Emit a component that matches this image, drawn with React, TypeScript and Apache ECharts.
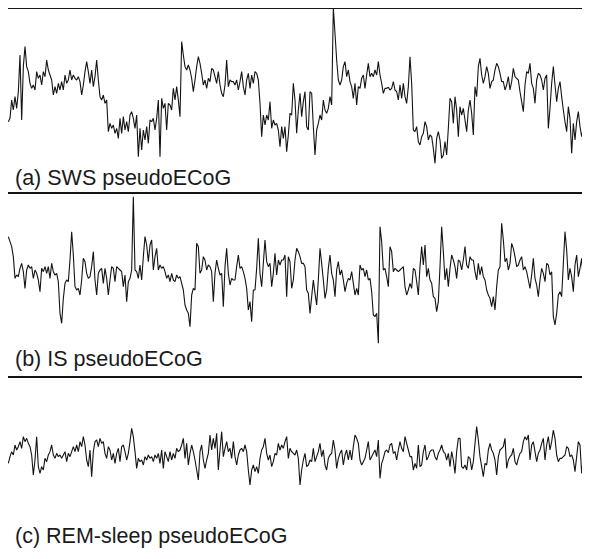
import React, { useEffect, useRef } from "react";
import * as echarts from "echarts";

// Amplitudes in arbitrary units, EEG convention (negative deflection drawn upward -> inverted axis).
// Each trace is split in three consecutive segments; segment start sample indices below.
const segmentStarts = [0, 109, 229];

const swsSeg1 = [365,355,300,330,290,325,275,165,360,200,140,200,215,250,265,255,270,215,235,225,255,215,230,180,210,225,240,285,260,280,250,270,245,270,225,250,240,210,240,225,235,240,230,245,285,255,215,185,215,250,210,260,230,180,240,290,300,285,310,300,395,370,385,375,400,385,415,355,400,350,390,365,395,345,335,355,385,345,470,385,450,390,420,380,430,360,365,355,390,355,300,470,295,325,310,390,310,315,330,265,300,260,300,350,125,165,200,210,195];
const swsSeg2 = [210,235,275,240,200,170,190,220,255,240,265,235,245,205,210,230,250,215,255,280,290,255,180,260,240,245,245,255,240,270,245,215,260,285,240,220,265,225,250,215,220,240,310,410,345,375,345,360,305,385,360,375,370,390,440,380,415,380,455,405,340,345,250,300,400,330,280,350,305,275,380,390,275,280,380,465,390,370,345,360,300,330,340,325,290,315,24,100,180,240,255,240,200,185,230,210,245,260,295,250,315,260,265,235,225,265,225,190,230,220,230,210,225,185,225,250,280,265,265,262];
const swsSeg3 = [270,265,245,270,275,300,255,295,250,290,310,260,170,250,390,395,380,425,435,410,400,365,380,420,405,410,445,490,415,395,420,475,465,425,465,385,295,305,370,290,330,410,320,345,325,360,395,330,300,340,405,260,290,200,175,225,250,230,200,220,265,245,240,210,190,200,220,245,245,270,255,230,270,245,205,230,235,240,275,305,335,255,215,220,190,250,265,310,240,220,225,240,270,235,225,385,325,250,200,255,305,265,245,290,330,365,395,320,355,460,370,420,365,335,380,410,385,420,390,340,320];

const isSeg1 = [170,185,200,230,295,285,290,265,250,275,325,270,255,265,260,295,270,280,300,335,265,275,260,280,260,295,250,275,285,280,305,400,430,355,310,300,305,240,155,225,320,330,325,345,300,235,245,280,295,290,260,215,300,345,280,270,265,310,265,295,345,300,260,265,305,260,265,270,275,320,285,365,305,295,270,50,270,275,295,255,300,230,170,195,245,195,180,270,230,205,270,255,265,260,275,295,285,305,280,300,305,285,295,290,310,330,375,390,400];
const isSeg2 = [440,345,325,330,190,200,280,270,230,240,270,255,260,275,365,280,240,265,285,280,380,260,205,280,315,295,300,300,260,225,265,260,275,295,325,390,365,425,330,330,265,175,280,320,250,180,245,260,250,320,280,220,285,240,255,240,240,225,350,230,245,325,300,240,205,215,230,250,250,260,330,340,400,350,300,340,375,300,205,250,300,355,330,265,225,280,300,350,270,245,285,270,300,335,310,295,300,275,310,345,325,345,255,270,265,290,270,300,295,335,405,410,400,490,140,185,270,265,290,320];
const isSeg3 = [200,215,275,265,270,275,270,265,260,320,345,330,310,325,265,270,305,345,260,200,255,195,290,265,300,310,350,355,395,365,260,140,215,300,265,320,265,225,240,260,295,240,245,270,240,200,255,265,230,240,240,275,300,250,285,260,290,300,330,345,355,380,350,390,320,270,260,130,180,245,235,270,250,190,205,230,260,255,240,230,270,260,275,300,325,285,235,295,315,350,300,265,280,305,250,255,285,275,410,435,400,345,335,350,250,155,210,300,265,290,335,255,225,290,265,235,300,240,220,280,280];

const remSeg1 = [280,260,245,255,225,240,230,215,235,200,215,205,220,230,255,315,270,200,290,310,290,300,265,275,255,245,225,255,265,250,260,255,265,255,245,275,250,260,245,230,245,225,245,215,230,200,225,270,290,240,320,245,215,210,230,205,220,215,250,265,230,240,270,250,280,250,235,275,230,225,245,270,250,215,175,200,245,295,265,275,270,285,260,270,255,265,260,275,255,265,250,280,240,295,245,260,275,245,270,250,265,235,245,240,225,205,265,220,285];
const remSeg2 = [250,225,245,270,300,330,245,225,270,295,270,250,195,240,205,235,190,300,240,185,260,235,215,245,235,265,215,260,285,255,240,235,245,225,245,300,345,300,285,305,290,310,265,240,230,205,250,270,255,290,275,250,255,220,240,225,235,215,200,265,235,245,250,255,240,265,345,300,270,250,290,285,270,275,235,275,260,245,220,260,240,285,300,265,255,250,210,240,295,265,250,240,285,255,240,270,240,270,230,195,205,220,270,285,275,265,240,215,270,260,250,240,260,210,325,280,265,245,240,248];
const remSeg3 = [225,220,250,245,270,240,215,235,245,200,220,240,260,260,300,280,295,225,290,285,245,225,270,260,245,240,240,260,270,250,240,225,245,250,270,250,290,245,270,310,245,205,205,290,295,285,300,260,265,300,275,220,170,210,260,290,320,280,285,240,220,240,250,270,315,260,240,235,230,205,295,270,260,255,235,275,285,265,250,245,215,200,210,195,270,225,215,245,275,250,240,220,205,270,225,200,240,215,180,205,255,275,265,265,260,255,230,235,260,255,270,305,260,215,225,310,265,250,285,265,280];

const panelLabels = ["(a) SWS pseudoECoG", "(b) IS pseudoECoG", "(c) REM-sleep pseudoECoG"];

function toPairs(segs: number[][]) {
  const out: number[][] = [];
  segs.forEach((seg, s) => {
    seg.forEach((v, j) => out.push([segmentStarts[s] + j, v]));
  });
  return out;
}

export default function App() {
  const ref = useRef<HTMLDivElement>(null);
  useEffect(() => {
    if (!ref.current) return;
    const chart = echarts.init(ref.current, null, { renderer: "svg" });
    const traces = [
      toPairs([swsSeg1, swsSeg2, swsSeg3]),
      toPairs([isSeg1, isSeg2, isSeg3]),
      toPairs([remSeg1, remSeg2, remSeg3]),
    ];
    const grids = [
      { top: 8, height: 185, min: 24, max: 579 },
      { top: 193, height: 184, min: 39, max: 591 },
      { top: 377, height: 182, min: 21, max: 567 },
    ];
    const labelY = [177.5, 358.5, 535.5];
    const lineColor = "#141414";
    chart.setOption({
      animation: false,
      backgroundColor: "#ffffff",
      grid: grids.map((g) => ({ left: 0, width: 590, top: g.top, height: g.height, show: false })),
      xAxis: grids.map((_, i) => ({ type: "value", gridIndex: i, min: -5, max: 349, show: false })),
      yAxis: grids.map((g, i) => ({ type: "value", gridIndex: i, min: g.min, max: g.max, inverse: true, show: false })),
      series: traces.map((d, i) => ({
        type: "line",
        xAxisIndex: i,
        yAxisIndex: i,
        data: d,
        showSymbol: false,
        symbol: "none",
        clip: false,
        lineStyle: { color: lineColor, width: 1.1 },
      })),
      graphic: [
        { type: "line", shape: { x1: 7, y1: 7, x2: 7, y2: 559 }, style: { stroke: lineColor, lineWidth: 2 } },
        { type: "line", shape: { x1: 6, y1: 8, x2: 590, y2: 8 }, style: { stroke: lineColor, lineWidth: 2 } },
        { type: "line", shape: { x1: 6, y1: 193, x2: 590, y2: 193 }, style: { stroke: lineColor, lineWidth: 2 } },
        { type: "line", shape: { x1: 6, y1: 377, x2: 590, y2: 377 }, style: { stroke: lineColor, lineWidth: 2 } },
        ...panelLabels.map((t, i) => ({
          type: "text",
          x: 15,
          y: labelY[i],
          style: {
            text: t,
            fill: "#1a1a1a",
            fontSize: 21.5,
            fontFamily: "'Liberation Sans', Arial, sans-serif",
            textAlign: "left",
            textVerticalAlign: "middle",
          },
        })),
      ],
    });
    return () => chart.dispose();
  }, []);
  return <div ref={ref} style={{ width: 590, height: 559, margin: -8 }} />;
}
